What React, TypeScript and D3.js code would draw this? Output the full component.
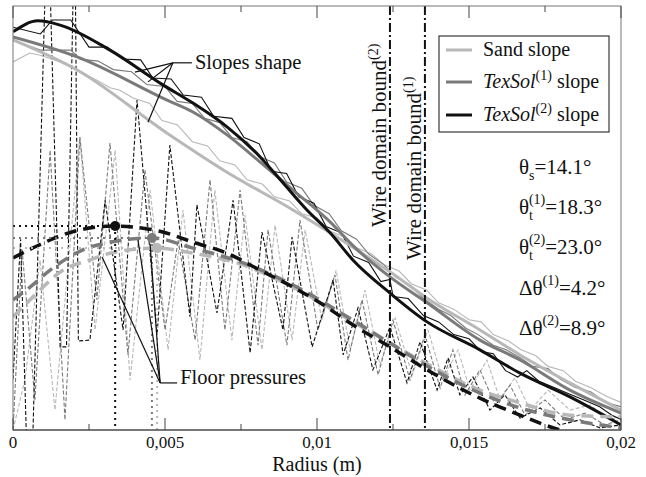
import React from 'react';
import * as d3 from 'd3';

type P = [number, number];

const W = 646, H = 477;
const plot = { left: 13, right: 621, top: 6, bottom: 430 };

// Axis ticks (radius in m)
const radiusTicks = [0, 0.005, 0.01, 0.015, 0.02];
const radiusTickLabels = ['0', '0,005', '0,01', '0,015', '0,02'];
const radiusMinorTicks = [0.0025, 0.0075, 0.0125, 0.0175];

// All series: [radius (mm), normalised value (%)]
const sandSlopeFit: P[] = [[0, 92.0], [2.11, 84.9], [5.07, 70.0], [7.04, 60.8], [9.21, 51.9], [10.43, 46.5], [12.4, 37.3], [13.62, 31.1], [15.36, 23.6], [16.68, 17.7], [18.32, 11.1], [20, 4.7]];
const texSol1SlopeFit: P[] = [[0, 92.7], [2.11, 88.0], [5.07, 77.8], [5.92, 75.0], [7.04, 69.6], [8.13, 63.2], [9.21, 56.6], [10.43, 49.1], [11.18, 43.5], [12.4, 36.1], [13.62, 30.0], [15.36, 21.2], [16.68, 16.5], [18.32, 9.4], [20, 4.0]];
const texSol2SlopeFit: P[] = [[0, 93.9], [0.82, 96.5], [1.55, 95.5], [3.19, 89.6], [4.93, 81.4], [5.92, 77.1], [7.04, 71.5], [8.13, 64.4], [8.88, 58.3], [9.67, 51.9], [10.43, 46.5], [11.18, 40.1], [12.4, 32.3], [13.62, 25.5], [15.36, 18.9], [16.68, 13.4], [18.32, 7.8], [20, 1.2]];

const sandSlopeProfile: P[] = [[0, 86.8], [0.55, 88.9], [0.9, 88.4], [1.55, 86.8], [2.1, 84.9], [2.76, 82.5], [3.19, 80.7], [3.5, 80.2], [3.95, 78.3], [4.5, 77], [4.9, 73], [5.4, 72], [5.9, 68], [6.4, 67], [6.8, 63.5], [7.3, 62.5], [7.7, 59], [8.2, 58], [8.6, 55], [9.1, 54], [9.5, 51], [10.0, 50], [10.4, 47], [10.9, 45.5], [11.3, 43], [11.8, 41.5], [12.2, 39], [12.7, 37.5], [13.1, 34.5], [13.6, 33], [14.0, 30], [14.5, 28.5], [15.0, 26], [15.4, 25.5], [15.8, 22.5], [16.3, 21], [16.7, 19], [17.2, 17.5], [17.6, 15], [18.1, 14], [18.5, 11.5], [19.0, 10], [19.5, 8], [20, 6.5]];
const texSol1SlopeProfile: P[] = [[0, 92], [0.9, 89.6], [1.9, 89.6], [2.2, 87.5], [2.8, 87], [3.3, 85], [3.9, 84.5], [4.4, 81.5], [5.0, 81], [5.4, 77.5], [5.9, 77], [6.3, 73.5], [6.8, 72.5], [7.2, 69], [7.7, 68], [8.1, 64.5], [8.6, 63], [9.0, 58.5], [9.5, 57], [9.9, 53], [10.4, 51], [10.8, 47], [11.3, 45], [11.7, 41.5], [12.2, 39], [12.6, 36], [13.1, 34], [13.5, 31], [14.0, 28.5], [14.4, 27], [14.9, 24], [15.3, 22.5], [15.8, 20], [16.2, 19], [16.7, 17], [17.1, 15], [17.6, 14.5], [18.0, 12], [18.5, 10], [19.0, 9], [19.5, 6.5], [20, 5.5]];
const texSol2SlopeProfile: P[] = [[0, 95], [0.9, 93.4], [1.3, 96.7], [1.9, 96.7], [2.5, 90.3], [3.1, 90.3], [3.6, 87.5], [4.2, 87.3], [4.6, 83], [5.2, 82.8], [5.6, 79], [6.2, 78.5], [6.6, 74], [7.2, 73.5], [7.6, 69], [8.1, 67.5], [8.5, 61], [9.0, 60.5], [9.4, 55], [9.9, 53.5], [10.3, 48], [10.8, 46.5], [11.2, 41], [11.7, 39.5], [12.1, 35], [12.4, 35.5], [12.5, 31.5], [13.0, 31], [13.5, 27], [14.0, 25.5], [14.5, 22.5], [15.0, 21.5], [15.4, 18.5], [15.8, 18], [16.2, 14], [16.6, 12.5], [16.9, 14], [17.3, 11.5], [17.8, 10], [18.3, 8.5], [18.8, 7], [19.3, 5.5], [19.7, 3.5], [20, 2.5]];

const sandFloorFit: P[] = [[0, 26.7], [0.66, 31.4], [1.64, 37.7], [2.53, 40.1], [3.19, 41.7], [4.74, 42.9], [5.92, 41.7], [7.37, 39.4], [9.21, 33.7], [11.18, 25.5], [12.4, 20.5], [13.62, 15.6], [15.36, 9.4], [16.68, 6.4], [18.32, 3.5], [20, 3.1]];
const texSol1FloorFit: P[] = [[0, 30.7], [0.56, 33.7], [1.22, 37.7], [2.3, 42.5], [3.19, 44.3], [4.57, 45.3], [5.92, 42.9], [7.57, 39.4], [9.21, 34.2], [11.18, 25.9], [12.4, 20.5], [13.62, 15.1], [15.36, 8.7], [16.68, 5.2], [18.32, 2.4], [20, 0.5]];
const texSol2FloorFit: P[] = [[0, 40.6], [0.79, 43.4], [1.45, 45.5], [2.2, 47.2], [3.36, 48.1], [4.28, 47.6], [4.93, 46.7], [5.92, 44.3], [7.04, 41.7], [8.13, 37.7], [9.21, 33.7], [10.1, 30.0], [11.18, 24.8], [12.4, 19.6], [13.62, 14.2], [15.36, 7.5], [16.68, 3.5], [17.99, 0], [20, -2.5]];

const sandFloorProfile: P[] = [[0, 0], [0.39, 11.8], [0.89, 40.1], [1.38, 4.7], [2.2, 69.1], [2.7, 23.6], [3.36, 66.0], [3.85, 11.8], [4.51, 56.6], [5.1, 18.9], [5.59, 51.9], [6.15, 16.5], [6.64, 56.6], [7.2, 21.2], [7.63, 50.7], [8.19, 18.9], [8.62, 48.3], [9.18, 21.2], [9.61, 47.2], [10.16, 25.9], [10.63, 37.7], [11.09, 18.9], [11.58, 33.0], [12.07, 15.3], [12.57, 26.4], [13.13, 13.0], [13.65, 23.6], [14.14, 11.8], [14.64, 18.9], [15.03, 9.4], [15.59, 16.5], [16.02, 7.1], [16.51, 12.3], [17.01, 4.7], [17.6, 9.4], [18.32, 4.7], [18.98, 5.9], [19.64, 2.4], [20, 3.5]];
const texSol1FloorProfile: P[] = [[0, 0], [0.3, 42.5], [0.72, 7.1], [1.22, 66.0], [1.71, 2.4], [2.2, 69.1], [2.76, 30.7], [3.19, 67.7], [3.78, 17.7], [4.34, 61.3], [5.0, 23.6], [5.43, 44.8], [5.99, 21.2], [6.48, 59.0], [6.97, 23.6], [7.47, 56.6], [8.06, 20.0], [8.39, 47.2], [9.01, 20.0], [9.44, 49.5], [10.03, 23.6], [10.59, 36.6], [11.02, 16.5], [11.48, 30.7], [12.01, 13.0], [12.5, 25.9], [13.06, 11.8], [13.55, 22.4], [14.05, 9.9], [14.47, 18.9], [14.87, 8.3], [15.36, 14.2], [15.86, 5.9], [16.35, 10.6], [16.84, 3.5], [17.5, 7.1], [18.16, 2.4], [18.82, 4.0], [19.47, 1.2], [20, 2.4]];
const texSol2FloorProfile: P[] = [[0, 12], [0.25, 45], [0.55, -28], [1.14, 125], [1.55, 19.6], [1.76, 19.6], [2.03, 123], [2.15, 21], [2.53, 21.2], [3.03, 54.2], [3.62, 23.6], [4.08, 77.8], [4.74, 22.4], [5.16, 67.2], [5.82, 26.7], [6.05, 53.1], [6.71, 27.6], [7.24, 54.2], [7.8, 18.2], [8.19, 46.7], [8.88, 23.6], [9.18, 45.5], [9.84, 19.6], [10.53, 35.4], [10.86, 17.7], [11.35, 28.8], [11.84, 14.2], [12.4, 24.3], [12.96, 11.1], [13.39, 20.8], [13.95, 9.4], [14.31, 17.0], [14.7, 8.3], [15.13, 12.5], [15.69, 4.7], [16.18, 8.3], [16.68, 2.8], [17.34, 5.2], [17.99, 1.2], [18.65, 2.4], [19.31, 0.5], [20, 1.2]];

// floor pressure maxima: sand, TexSol(1), TexSol(2)
const floorPeaks: P[] = [[4.74, 42.9], [4.57, 45.3], [3.36, 48.1]];

const wireBoundRadius = [0.0124, 0.01355];
const wireBoundSup = ['(2)', '(1)'];

const legendNames = ['Sand slope', 'TexSol', 'TexSol'];
const legendSup = ['', '(1)', '(2)'];

const angleSymbols = ['θ', 'θ', 'θ', 'Δθ', 'Δθ'];
const angleSubs = ['s', 't', 't', '', ''];
const angleSups = ['', '(1)', '(2)', '(1)', '(2)'];
const angleValues = ['=14.1°', '=18.3°', '=23.0°', '=4.2°', '=8.9°'];

// annotation pointers [radius mm, %]
const slopesApex: P = [5.26, 86.6];
const slopesTargets: P[] = [[4.01, 84.4], [4.44, 82.1], [4.44, 72.6]];
const floorApex: P = [4.84, 11.1];
const floorTargets: P[] = [[2.93, 40.8], [4.11, 44.8], [4.51, 43.9]];

const colors = ['#b8b8b8', '#7a7a7a', '#111111'];
const FONT = "'Liberation Serif', 'DejaVu Serif', 'Noto Serif', 'Times New Roman', Times, serif";

export default function App() {
  const x = d3.scaleLinear().domain([0, 0.02]).range([plot.left, plot.right]);
  const y = d3.scaleLinear().domain([0, 100]).range([plot.bottom, plot.top]);
  const px = (mm: number) => x(mm / 1000);
  const smooth = d3.line<P>().x(d => px(d[0])).y(d => y(d[1])).curve(d3.curveMonotoneX);
  const raw = d3.line<P>().x(d => px(d[0])).y(d => y(d[1]));

  const slopeFits = [sandSlopeFit, texSol1SlopeFit, texSol2SlopeFit];
  const slopeProfiles = [sandSlopeProfile, texSol1SlopeProfile, texSol2SlopeProfile];
  const floorFits = [sandFloorFit, texSol1FloorFit, texSol2FloorFit];
  const floorProfiles = [sandFloorProfile, texSol1FloorProfile, texSol2FloorProfile];

  const symX = 519;
  const angleBase = [174, 214, 254, 295, 335];

  return (
    <div style={{ position: 'absolute', left: 0, top: 0, width: W, height: H, fontFamily: FONT }}>
    <svg width={W} height={H} style={{ display: 'block', background: '#fff' }} fontFamily={FONT}>
      <defs>
        <clipPath id="plotClip">
          <rect x={plot.left} y={plot.top} width={plot.right - plot.left} height={plot.bottom - plot.top} />
        </clipPath>
      </defs>
      <rect x={0} y={0} width={W} height={H} fill="#fff" />
      <g clipPath="url(#plotClip)">
        {floorProfiles.map((s, i) => (
          <path key={'fp' + i} d={raw(s) || ''} fill="none" stroke={colors[i]} strokeWidth={1.1} strokeDasharray="4,2" />
        ))}
        {slopeProfiles.map((s, i) => (
          <path key={'sp' + i} d={raw(s) || ''} fill="none" stroke={colors[i]} strokeWidth={1.1} />
        ))}
        {slopeFits.map((s, i) => (
          <path key={'sf' + i} d={smooth(s) || ''} fill="none" stroke={colors[i]} strokeWidth={3} />
        ))}
        {floorFits.map((s, i) => (
          <path key={'ff' + i} d={smooth(s) || ''} fill="none" stroke={colors[i]} strokeWidth={3.5} strokeDasharray="12,7" />
        ))}
        {floorPeaks.map((p, i) => (
          <g key={'pk' + i}>
            <line x1={plot.left} x2={px(p[0])} y1={y(p[1])} y2={y(p[1])} stroke={colors[i]} strokeWidth={2} strokeDasharray="2,4" />
            <line x1={px(p[0])} x2={px(p[0])} y1={y(p[1])} y2={plot.bottom} stroke={colors[i]} strokeWidth={2} strokeDasharray="2,4" />
            <circle cx={px(p[0])} cy={y(p[1])} r={5} fill={colors[i]} />
          </g>
        ))}
        {wireBoundRadius.map((r, i) => (
          <line key={'wb' + i} x1={x(r)} x2={x(r)} y1={plot.top} y2={plot.bottom} stroke="#111" strokeWidth={2} strokeDasharray="9,3,2,3" />
        ))}
      </g>

      {/* frame */}
      <rect x={plot.left} y={plot.top} width={plot.right - plot.left} height={plot.bottom - plot.top} fill="none" stroke="#777" strokeWidth={1} />
      <line x1={plot.left} x2={plot.right} y1={plot.bottom} y2={plot.bottom} stroke="#333" strokeWidth={1} />
      {radiusTicks.map((t, i) => (
        <g key={'t' + i}>
          <line x1={x(t)} x2={x(t)} y1={plot.bottom} y2={plot.bottom - 12} stroke="#444" />
          <line x1={x(t)} x2={x(t)} y1={plot.top} y2={plot.top + 12} stroke="#444" />
          <text x={x(t)} y={448} fontSize={17} textAnchor="middle" fill="#111">{radiusTickLabels[i]}</text>
        </g>
      ))}
      {radiusMinorTicks.map((t, i) => (
        <g key={'mt' + i}>
          <line x1={x(t)} x2={x(t)} y1={plot.bottom} y2={plot.bottom - 6} stroke="#444" />
          <line x1={x(t)} x2={x(t)} y1={plot.top} y2={plot.top + 6} stroke="#444" />
        </g>
      ))}
      <text x={(plot.left + plot.right) / 2} y={471} fontSize={20} textAnchor="middle" fill="#111">Radius (m)</text>

      {/* wire bound labels */}
      {wireBoundRadius.map((r, i) => (
        <text key={'wl' + i} transform={`translate(${x(r) - 4},${i === 0 ? 227 : 260}) rotate(-90)`} fontSize={21} fill="#111">
          Wire domain bound<tspan dy={-8} fontSize={14}>{wireBoundSup[i]}</tspan>
        </text>
      ))}

      {/* annotations */}
      {slopesTargets.map((t, i) => (
        <line key={'sa' + i} x1={px(slopesApex[0])} y1={y(slopesApex[1])} x2={px(t[0])} y2={y(t[1])} stroke="#111" strokeWidth={1.2} />
      ))}
      <line x1={px(slopesApex[0])} y1={y(slopesApex[1])} x2={px(slopesApex[0]) + 19} y2={y(slopesApex[1])} stroke="#111" strokeWidth={1.2} />
      <text x={px(slopesApex[0]) + 22} y={y(slopesApex[1]) + 6} fontSize={20.5} fill="#111">Slopes shape</text>

      {floorTargets.map((t, i) => (
        <line key={'fa' + i} x1={px(floorApex[0])} y1={y(floorApex[1])} x2={px(t[0])} y2={y(t[1])} stroke="#111" strokeWidth={1.2} />
      ))}
      <line x1={px(floorApex[0])} y1={y(floorApex[1])} x2={px(floorApex[0]) + 17} y2={y(floorApex[1])} stroke="#111" strokeWidth={1.2} />
      <text x={px(floorApex[0]) + 20} y={y(floorApex[1]) + 1} fontSize={20.5} fill="#111">Floor pressures</text>

      {/* legend */}
      <rect x={439} y={36} width={170} height={96} fill="#fff" stroke="#111" strokeWidth={1} />
      {legendNames.map((n, i) => {
        const cy = [50, 82, 115][i];
        return (
          <g key={'lg' + i}>
            <line x1={446} x2={472} y1={cy} y2={cy} stroke={colors[i]} strokeWidth={3} />
            {i === 0 ? (
              <text x={483} y={cy + 6} fontSize={20} fill="#111">{n}</text>
            ) : (
              <text x={483} y={cy + 6} fontSize={20} fill="#111">
                <tspan fontStyle="italic">{n}</tspan>
                <tspan dy={-8} fontSize={14}>{legendSup[i]}</tspan>
                <tspan dy={8}> slope</tspan>
              </text>
            )}
          </g>
        );
      })}

      {/* angles */}
      {angleSymbols.map((s, i) => {
        const b = angleBase[i];
        const sub = angleSubs[i];
        const sup = angleSups[i];
        return (
          <text key={'an' + i} x={symX} y={b} fontSize={21} fill="#111">
            {s}
            {sub && <tspan dy={6} fontSize={14}>{sub}</tspan>}
            {sup && <tspan dx={sub ? -4 : 0} dy={sub ? -16 : -10} fontSize={14}>{sup}</tspan>}
            <tspan dy={sup ? 10 : -6}>{angleValues[i]}</tspan>
          </text>
        );
      })}
    </svg>
    </div>
  );
}
